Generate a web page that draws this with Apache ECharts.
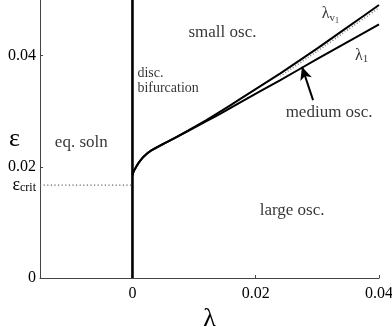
<!DOCTYPE html>
<html>
<head>
<meta charset="utf-8">
<script src="https://cdn.jsdelivr.net/npm/echarts@6/dist/echarts.min.js"></script>
<style>
  html, body { margin: 0; padding: 0; background: #fff; }
  #main { width: 392px; height: 327px; }
</style>
</head>
<body>
<div id="main"></div>
<script>
// boundary curves
var lamUpper = [0, 0.0002, 0.0005, 0.001, 0.0018, 0.003, 0.0055, 0.009, 0.012, 0.0145, 0.0175, 0.024, 0.030, 0.0345, 0.040];
var epsUpper = [0.0185, 0.0192, 0.0198, 0.0207, 0.0218, 0.0229, 0.0244, 0.0265, 0.0284, 0.0301, 0.0322, 0.0368, 0.0413, 0.0448, 0.0491];
var lamLower = [0, 0.0002, 0.0005, 0.001, 0.0018, 0.003, 0.0055, 0.009, 0.012, 0.0145, 0.0175, 0.024, 0.030, 0.0345, 0.040];
var epsLower = [0.0185, 0.0192, 0.0198, 0.0207, 0.0218, 0.0229, 0.0244, 0.0264, 0.0282, 0.0297, 0.0316, 0.0356, 0.0394, 0.0422, 0.0456];
// hatch marks under the lambda_v1 curve
var lamHatch = [0.024, 0.030, 0.0345, 0.040];
var epsHatch = [0.0363, 0.0408, 0.0443, 0.0486];
var epsCrit = 0.0167;
var xTicks = [0, 0.02, 0.04];
var yTicks = [0.02, 0.04];
var yLabels = [0, 0.0167, 0.02, 0.04];

function pairs(xs, ys) {
  return xs.map(function (x, i) { return [x, ys[i]]; });
}

var serif = "Liberation Serif";
var dom = document.getElementById("main");
var myChart = echarts.init(dom, null, { renderer: "canvas" });

// text annotations, placed in data coordinates
var notes = [
  { value: [0.0146, 0.0441], text: "small osc.", size: 17, align: "center" },
  { value: [-0.0083, 0.0244], text: "eq. soln", size: 17, align: "center" },
  { value: [0.0008, 0.0355], text: "disc.\nbifurcation", size: 14, align: "left" },
  { value: [0.0319, 0.0298], text: "medium osc.", size: 17, align: "center" },
  { value: [0.0259, 0.0122], text: "large osc.", size: 17, align: "center" },
  { value: [0.0321, 0.0475], text: "{l|λ}{s|v}{t|1}", size: 16, align: "center" },
  { value: [0.0372, 0.0400], text: "{l|λ}{s|1}", size: 16, align: "center" }
];

var option = {
  animation: false,
  grid: { left: 40, right: 13, top: 0, bottom: 49, outerBoundsMode: "none", containLabel: false },
  xAxis: {
    type: "value",
    min: -0.015,
    max: 0.04,
    name: "λ",
    nameLocation: "middle",
    nameGap: 28,
    nameMoveOverlap: false,
    nameTextStyle: { fontFamily: serif, fontSize: 26, color: "#000" },
    splitLine: { show: false },
    axisLine: { onZero: false, lineStyle: { color: "#444", width: 1 } },
    axisTick: { inside: true, length: 3, customValues: xTicks, lineStyle: { color: "#444" } },
    axisLabel: {
      customValues: xTicks,
      margin: 8,
      fontFamily: serif,
      fontSize: 16,
      color: "#000",
      formatter: function (v) { return v === 0 ? "0" : v.toFixed(2); }
    }
  },
  yAxis: {
    type: "value",
    min: 0,
    max: 0.05,
    name: "ε",
    nameLocation: "middle",
    nameGap: 20,
    nameRotate: 0,
    nameMoveOverlap: false,
    nameTextStyle: { fontFamily: serif, fontSize: 26, color: "#000" },
    splitLine: { show: false },
    axisLine: { onZero: false, lineStyle: { color: "#444", width: 1 } },
    axisTick: { inside: true, length: 3, customValues: yTicks, lineStyle: { color: "#444" } },
    axisLabel: {
      customValues: yLabels,
      margin: 4,
      fontFamily: serif,
      fontSize: 16,
      color: "#000",
      formatter: function (v) {
        if (v === 0) return "0";
        if (Math.abs(v - epsCrit) < 1e-6) return "{e|ε}{c|crit}";
        return v.toFixed(2);
      },
      rich: {
        e: { fontFamily: serif, fontSize: 18, color: "#000" },
        c: { fontFamily: serif, fontSize: 12, color: "#000", padding: [6, 0, 0, 0] }
      }
    }
  },
  series: [
    {
      name: "vertical",
      type: "line",
      data: [[0, 0], [0, 0.05]],
      symbol: "none",
      lineStyle: { color: "#000", width: 2.6 },
      silent: true
    },
    {
      name: "crit",
      type: "line",
      data: [[-0.015, epsCrit], [0, epsCrit]],
      symbol: "none",
      lineStyle: { color: "#666", width: 1.2, type: [1.2, 2.4] },
      silent: true
    },
    {
      name: "lambda_v1",
      type: "line",
      data: pairs(lamUpper, epsUpper),
      smooth: 0.15,
      symbol: "none",
      lineStyle: { color: "#000", width: 2 }
    },
    {
      name: "lambda_v1 hatch",
      type: "line",
      data: pairs(lamHatch, epsHatch),
      smooth: 0.15,
      symbol: "none",
      lineStyle: { color: "#777", width: 1.5, type: [1, 2] }
    },
    {
      name: "lambda_1",
      type: "line",
      data: pairs(lamLower, epsLower),
      smooth: 0.15,
      symbol: "none",
      lineStyle: { color: "#000", width: 2 },
      markLine: {
        silent: true,
        symbol: ["none", "arrow"],
        symbolSize: [9, 13],
        label: { show: false },
        lineStyle: { color: "#000", width: 2, type: "solid" },
        data: [[{ coord: [0.0293, 0.0320] }, { coord: [0.0275, 0.0380] }]]
      }
    },
    {
      name: "notes",
      type: "scatter",
      symbolSize: 0,
      silent: true,
      data: notes.map(function (n) {
        return {
          value: n.value,
          label: {
            show: true,
            position: "inside",
            align: n.align,
            verticalAlign: "middle",
            formatter: n.text,
            fontFamily: serif,
            fontSize: n.size,
            lineHeight: n.size + 1,
            color: "#000",
            rich: {
              l: { fontFamily: serif, fontSize: 16, color: "#000" },
              s: { fontFamily: serif, fontSize: 11, color: "#000", padding: [8, 0, 0, 0] },
              t: { fontFamily: serif, fontSize: 8, color: "#000", padding: [14, 0, 0, 0] }
            }
          }
        };
      })
    }
  ]
};

if (option && typeof option === "object") {
  myChart.setOption(option);
}
window.addEventListener("resize", myChart.resize);
</script>
</body>
</html>
